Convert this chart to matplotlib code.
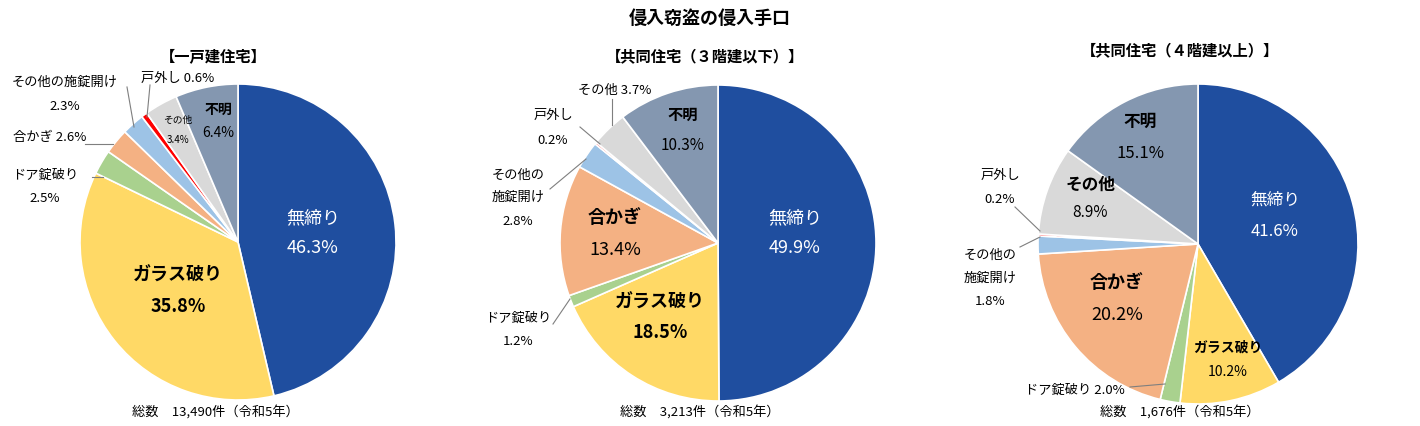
import matplotlib.pyplot as plt

plt.rcParams["font.family"] = "Noto Sans CJK JP"

categories = ["無締り", "ガラス破り", "ドア錠破り", "合かぎ", "その他の施錠開け", "戸外し", "その他", "不明"]
colors = ["#1f4e9f", "#ffd966", "#a9d18e", "#f4b183", "#9dc3e6", "#ff0000", "#d9d9d9", "#8497b0"]

house = [46.3, 35.8, 2.5, 2.6, 2.3, 0.6, 3.4, 6.4]
low_rise = [49.9, 18.5, 1.2, 13.4, 2.8, 0.2, 3.7, 10.3]
high_rise = [41.6, 10.2, 2.0, 20.2, 1.8, 0.2, 8.9, 15.1]

titles = ["【一戸建住宅】", "【共同住宅（３階建以下）】", "【共同住宅（４階建以上）】"]
totals = ["総数　13,490件（令和5年）", "総数　3,213件（令和5年）", "総数　1,676件（令和5年）"]

H = 427
fig = plt.figure(figsize=(14.2, 4.27), dpi=100)
ax = fig.add_axes([0, 0, 1, 1])
ax.set_xlim(0, 1420)
ax.set_ylim(0, H)
ax.axis("off")


def t(x, y, s, size=10, color="black", bold=False):
    ax.text(x, H - y, s, ha="center", va="center", fontsize=size, color=color,
            fontweight="bold" if bold else "normal")


def line(x0, y0, x1, y1):
    ax.plot([x0, x1], [H - y0, H - y1], color="#7f7f7f", lw=0.8)


pies = [(house, 238, 243, 158), (low_rise, 718, 244, 158), (high_rise, 1198, 245, 160)]
for vals, cx, cy, r in pies:
    ax.pie(vals, colors=colors, startangle=90, counterclock=False,
           center=(cx, H - cy), radius=r, frame=True,
           wedgeprops=dict(edgecolor="white", linewidth=1.2))
ax.set_xlim(0, 1420)
ax.set_ylim(0, H)
ax.set_aspect("equal")
ax.axis("off")

t(710, 18, "侵入窃盗の侵入手口", 13, bold=True)

# pie 1
t(213, 56, titles[0], 11, bold=True)
t(313, 218, f"{categories[0]}", 13, "white")
t(313, 248, f"{house[0]}%", 13, "white")
t(178, 275, categories[1], 13, bold=True)
t(178, 307, f"{house[1]}%", 13, bold=True)
t(45, 175, categories[2], 9.5); t(45, 199, f"{house[2]}%", 9.5)
line(92, 178, 103, 178)
t(50, 138, f"{categories[3]} {house[3]}%", 9.5)
line(85, 145, 113, 145)
t(65, 82, categories[4], 9.5); t(65, 106, f"{house[4]}%", 9.5)
line(127, 88, 134, 128)
t(178, 78, f"{categories[5]} {house[5]}%", 9.5)
line(150, 86, 147, 118)
t(178, 120, categories[6], 7); t(178, 140, f"{house[6]}%", 7)
t(218, 110, categories[7], 10, bold=True); t(218, 133, f"{house[7]}%", 10)
t(215, 412, totals[0], 9.5)

# pie 2
t(705, 56, titles[1], 11, bold=True)
t(795, 218, categories[0], 13, "white"); t(795, 248, f"{low_rise[0]}%", 13, "white")
t(660, 302, categories[1], 13, bold=True); t(660, 333, f"{low_rise[1]}%", 13, bold=True)
t(615, 218, categories[3], 13, bold=True); t(615, 250, f"{low_rise[3]}%", 13)
t(683, 115, categories[7], 11, bold=True); t(683, 145, f"{low_rise[7]}%", 11)
t(615, 90, f"{categories[6]} {low_rise[6]}%", 9.5)
line(612, 100, 612, 126)
t(553, 115, categories[5], 9.5); t(553, 141, f"{low_rise[5]}%", 9.5)
line(580, 128, 600, 145)
t(518, 175, "その他の", 9.5); t(518, 197, "施錠開け", 9.5); t(518, 222, f"{low_rise[4]}%", 9.5)
line(550, 190, 586, 160)
t(518, 318, categories[2], 9.5); t(518, 342, f"{low_rise[2]}%", 9.5)
line(553, 325, 570, 300)
t(700, 412, totals[1], 9.5)

# pie 3
t(1180, 50, titles[2], 11, bold=True)
t(1275, 200, categories[0], 12, "white"); t(1275, 232, f"{high_rise[0]}%", 12, "white")
t(1228, 348, categories[1], 10, bold=True); t(1228, 372, f"{high_rise[1]}%", 10)
t(1117, 283, categories[3], 13, bold=True); t(1117, 315, f"{high_rise[3]}%", 13)
t(1075, 390, f"{categories[2]} {high_rise[2]}%", 9.5)
line(1130, 388, 1165, 385)
t(990, 255, "その他の", 9.5); t(990, 278, "施錠開け", 9.5); t(990, 302, f"{high_rise[4]}%", 9.5)
line(1020, 248, 1040, 238)
t(1000, 175, categories[5], 9.5); t(1000, 200, f"{high_rise[5]}%", 9.5)
line(1015, 208, 1040, 232)
t(1090, 185, categories[6], 12, bold=True); t(1090, 213, f"{high_rise[6]}%", 11)
t(1140, 122, categories[7], 12, bold=True); t(1140, 153, f"{high_rise[7]}%", 12)
t(1180, 412, totals[2], 9.5)

fig.savefig("out.png", dpi=100)
